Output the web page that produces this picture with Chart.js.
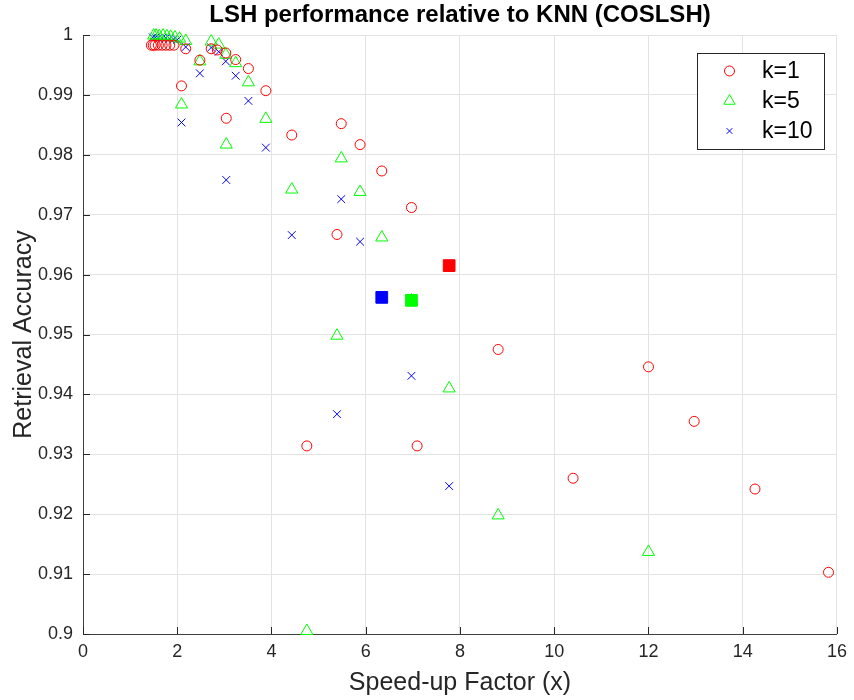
<!DOCTYPE html>
<html>
<head>
<meta charset="utf-8">
<script src="https://cdn.jsdelivr.net/npm/chart.js@4/dist/chart.umd.min.js"></script>
<style>
  body { margin: 0; background: #fff; }
  #wrap { width: 854px; height: 700px; }
</style>
</head>
<body>
<div id="wrap"><canvas id="myChart" width="854" height="700"></canvas></div>
<script>
var speedK1 = [1.45, 1.49, 1.53, 1.6, 1.68, 1.76, 1.84, 1.93, 2.18, 2.48, 2.72, 2.85, 3.03, 3.24, 3.51,
  2.09, 3.04, 3.88, 4.43, 5.48, 5.88, 6.34, 6.97, 5.39, 7.77, 4.75, 7.09, 8.81, 12.0, 10.4, 12.97, 14.26, 15.82];
var accK1 = [0.9983, 0.9983, 0.9983, 0.9983, 0.9983, 0.9983, 0.9983, 0.9983, 0.9977, 0.9958, 0.9977, 0.9975, 0.9970, 0.9959, 0.9944,
  0.9915, 0.9861, 0.9907, 0.9833, 0.9852, 0.9817, 0.9773, 0.9712, 0.9667, 0.9615, 0.9314, 0.9314, 0.9475, 0.9446, 0.9260, 0.9355, 0.9242, 0.9103];

var speedK5 = [1.5, 1.55, 1.62, 1.7, 1.78, 1.86, 1.95, 2.05, 2.18, 2.48, 2.72, 2.88, 3.03, 3.24, 3.51,
  2.09, 3.04, 3.88, 4.43, 5.48, 5.88, 6.34, 6.97, 5.39, 7.77, 4.75, 8.81, 12.0];
var accK5 = [0.9999, 0.9999, 0.9998, 0.9999, 0.9998, 0.9997, 0.9996, 0.9994, 0.9990, 0.9956, 0.9989, 0.9984, 0.9967, 0.9953, 0.9921,
  0.9884, 0.9817, 0.9860, 0.9742, 0.9794, 0.9738, 0.9662, 0.9557, 0.9498, 0.9410, 0.9005, 0.9198, 0.9137];

var speedK10 = [1.48, 1.54, 1.6, 1.68, 1.76, 1.84, 1.92, 2.0, 2.18, 2.48, 2.72, 2.88, 3.03, 3.24, 3.51,
  2.09, 3.04, 3.88, 4.43, 5.48, 5.88, 6.34, 6.97, 5.39, 7.77];
var accK10 = [0.9996, 0.9996, 0.9995, 0.9995, 0.9995, 0.9994, 0.9993, 0.9992, 0.9980, 0.9936, 0.9979, 0.9972, 0.9956, 0.9932, 0.9890,
  0.9854, 0.9758, 0.9812, 0.9666, 0.9726, 0.9655, 0.9562, 0.9431, 0.9367, 0.9247];

// chosen settings, drawn as filled squares
var bestSpeed = [7.77, 6.97, 6.34];
var bestAcc = [0.9615, 0.9557, 0.9562];

var seriesNames = ['k=1', 'k=5', 'k=10'];
var colors = ['#ff0000', '#00ff00', '#0000ff'];
var xTicks = [0, 2, 4, 6, 8, 10, 12, 14, 16];

var font = "'Liberation Sans', Arial, sans-serif";

function toPoints(xs, ys) {
  var pts = [];
  for (var i = 0; i < xs.length; i++) pts.push({x: xs[i], y: ys[i]});
  return pts;
}

function marker(ds, style, radius, color) {
  ds.pointStyle = style;
  ds.pointRadius = radius;
  ds.pointHoverRadius = radius;
  ds.borderColor = color;
  ds.backgroundColor = 'rgba(0,0,0,0)';
  ds.pointBorderWidth = 1;
  ds.showLine = false;
  ds.clip = false;
  return ds;
}

var datasets = [
  marker({label: seriesNames[0], data: toPoints(speedK1, accK1)}, 'circle', 5, colors[0]),
  marker({label: seriesNames[1], data: toPoints(speedK5, accK5)}, 'triangle', 7, colors[1]),
  marker({label: seriesNames[2], data: toPoints(speedK10, accK10)}, 'crossRot', 5.5, colors[2])
];
for (var j = 0; j < bestSpeed.length; j++) {
  datasets.push({
    label: 'best' + j,
    data: [{x: bestSpeed[j], y: bestAcc[j]}],
    pointStyle: 'rect',
    pointRadius: 8.3,
    pointHoverRadius: 8.3,
    backgroundColor: colors[j],
    borderColor: colors[j],
    pointBorderWidth: 1,
    showLine: false,
    clip: false
  });
}

function drawMarker(ctx, style, x, y, r, color) {
  ctx.save();
  ctx.strokeStyle = color;
  ctx.lineWidth = 1;
  ctx.beginPath();
  if (style == 'circle') {
    ctx.arc(x, y, r, 0, Math.PI * 2);
  } else if (style == 'triangle') {
    for (var k = 0; k < 3; k++) {
      var a = k * 2 * Math.PI / 3;
      var px = x + Math.sin(a) * r, py = y - Math.cos(a) * r;
      if (k == 0) ctx.moveTo(px, py); else ctx.lineTo(px, py);
    }
    ctx.closePath();
  } else {
    var d = r * Math.SQRT1_2;
    ctx.moveTo(x - d, y - d); ctx.lineTo(x + d, y + d);
    ctx.moveTo(x + d, y - d); ctx.lineTo(x - d, y + d);
  }
  ctx.stroke();
  ctx.restore();
}

var decorPlugin = {
  id: 'decor',
  beforeDatasetsDraw: function (chart) {
    // inward ticks on left and bottom axis, under the marks
    var ctx = chart.ctx, area = chart.chartArea;
    var xs = chart.scales.x, ys = chart.scales.y;
    ctx.save();
    ctx.strokeStyle = '#262626';
    ctx.lineWidth = 1;
    ctx.beginPath();
    ys.ticks.forEach(function (t) {
      var py = Math.round(ys.getPixelForValue(t.value)) + 0.5;
      ctx.moveTo(area.left, py); ctx.lineTo(area.left + 7, py);
    });
    xs.ticks.forEach(function (t) {
      var px = Math.round(xs.getPixelForValue(t.value)) + 0.5;
      ctx.moveTo(px, area.bottom); ctx.lineTo(px, area.bottom - 7);
    });
    ctx.stroke();
    ctx.restore();
  },
  afterDraw: function (chart) {
    var ctx = chart.ctx, area = chart.chartArea;
    ctx.save();

    // titles
    ctx.fillStyle = '#000';
    ctx.textAlign = 'center';
    ctx.textBaseline = 'middle';
    ctx.font = 'bold 24px ' + font;
    var cx = (area.left + area.right) / 2;
    ctx.fillText('LSH performance relative to KNN (COSLSH)', cx, 15);

    ctx.fillStyle = '#262626';
    ctx.font = '25px ' + font;
    ctx.fillText('Speed-up Factor (x)', cx, 683);
    ctx.save();
    ctx.translate(24, (area.top + area.bottom) / 2);
    ctx.rotate(-Math.PI / 2);
    ctx.fillText('Retrieval Accuracy', 0, 0);
    ctx.restore();

    // legend box
    var lx = 697.5, ly = 53.5, lw = 127, lh = 96;
    ctx.fillStyle = '#fff';
    ctx.fillRect(lx, ly, lw, lh);
    ctx.strokeStyle = '#262626';
    ctx.strokeRect(lx, ly, lw, lh);
    var styles = ['circle', 'triangle', 'crossRot'];
    var radii = [5, 6.5, 4];
    var rowY = [71, 101, 131];
    ctx.textAlign = 'left';
    ctx.font = '23px ' + font;
    for (var i = 0; i < 3; i++) {
      drawMarker(ctx, styles[i], 729.5, rowY[i], radii[i], colors[i]);
      ctx.fillStyle = '#000';
      ctx.fillText(seriesNames[i], 762, rowY[i] + 1);
    }
    ctx.restore();
  }
};

var ctx = document.getElementById('myChart').getContext('2d');
var myChart = new Chart(ctx, {
  type: 'scatter',
  data: { datasets: datasets },
  options: {
    responsive: false,
    animation: false,
    events: [],
    layout: { padding: { top: 35, right: 13, left: 0, bottom: 0 } },
    plugins: {
      legend: { display: false },
      tooltip: { enabled: false },
      title: { display: false }
    },
    scales: {
      x: {
        type: 'linear',
        min: 0,
        max: 16,
        afterBuildTicks: function (scale) {
          scale.ticks = xTicks.map(function (v) { return {value: v}; });
        },
        afterFit: function (scale) { scale.height = 66; },
        grid: { color: '#e3e3e3', drawTicks: false },
        border: { color: '#404040' },
        ticks: {
          padding: 7,
          color: '#262626',
          font: { family: font, size: 18 },
          callback: function (v) { return v; }
        }
      },
      y: {
        type: 'linear',
        min: 0.9,
        max: 1,
        afterFit: function (scale) { scale.width = 83; },
        grid: { color: '#e3e3e3', drawTicks: false },
        border: { color: '#404040' },
        ticks: {
          stepSize: 0.01,
          padding: 10,
          color: '#262626',
          font: { family: font, size: 18 },
          callback: function (v) { return parseFloat(v.toFixed(2)); }
        }
      }
    }
  },
  plugins: [decorPlugin]
});
</script>
</body>
</html>
